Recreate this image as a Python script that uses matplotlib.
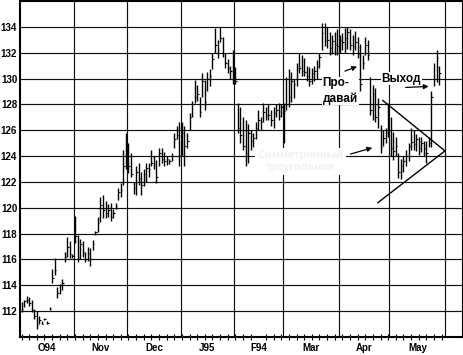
import numpy as np
import matplotlib
matplotlib.use("Agg")
import matplotlib.pyplot as plt

plt.rcParams["font.family"] = ["Liberation Sans", "DejaVu Sans"]

# month labels and trading days per month
months = ["O94", "Nov", "Dec", "J95", "F94", "Mar", "Apr", "May"]
month_days = [21, 21, 21, 21, 19, 22, 20, 22]

# daily highs / lows / closes
highs = [
    # Oct
    112.7, 112.9, 113.2, 113.1, 112.9, 112.2, 112.0, 111.6, 111.2, 111.5, 111.2, 112.3,
    115.3, 116.1, 113.9, 114.1, 114.5, 116.6, 117.7, 117.4, 116.4,
    # Nov
    119.4, 117.9, 117.6, 117.4, 116.6, 117.0, 116.9, 117.5, 118.2, 119.3, 120.8,
    121.0, 120.5, 120.3, 120.4, 119.9, 120.4, 121.5, 121.9, 124.5, 125.8,
    # Dec
    125.0, 124.2, 122.0, 123.2, 123.5, 122.8, 123.0, 123.5, 123.5, 124.5, 124.0,
    123.7, 124.6, 124.6, 124.3, 124.0, 123.8, 124.2, 125.8, 126.3, 126.6,
    # Jan
    126.6, 126.3, 125.8, 127.3, 128.3, 129.9, 129.5, 128.6, 130.4, 129.9, 130.5,
    130.7, 132.0, 133.9, 133.0, 134.0, 133.2, 132.0, 131.5, 131.0, 132.2,
    # Feb
    130.9, 128.1, 127.8, 127.0, 126.8, 126.5, 126.0, 125.8, 126.6, 127.6,
    127.0, 128.1, 127.8, 128.0, 127.6, 127.8, 128.0, 128.1, 128.0,
    # Mar
    128.1, 130.1, 130.7, 130.5, 130.0, 131.2, 132.0, 131.8, 131.6, 131.0, 130.9,
    130.8, 131.0, 131.4, 132.0, 134.3, 134.3, 134.0, 133.6, 133.4, 133.6, 133.8, 133.4,
    # Apr
    133.5, 133.9, 134.0, 133.8, 133.4, 133.7, 133.2, 132.7, 131.8, 133.2,
    133.0, 130.1, 129.5, 129.3, 128.5, 126.4, 126.0, 126.2, 128.1, 127.0,
    # May
    125.9, 125.5, 124.2, 123.8, 124.0, 124.5, 125.0, 126.2, 126.0, 125.7,
    125.5, 125.5, 125.2, 125.2, 125.5, 129.0, 131.2, 132.2, 131.0,
]
lows = [
    111.9, 112.3, 112.6, 112.4, 111.9, 111.4, 110.6, 111.0, 111.0, 111.3, 111.0, 112.1,
    114.2, 114.8, 113.0, 113.3, 113.6, 115.8, 116.2, 116.1, 116.1,
    117.3, 115.8, 116.0, 116.2, 115.8, 115.9, 115.5, 116.7, 117.9, 118.1, 118.9,
    119.2, 119.2, 119.3, 119.0, 119.2, 119.9, 120.6, 120.8, 121.8, 123.0,
    122.7, 122.4, 121.1, 121.0, 121.8, 121.0, 121.7, 122.0, 122.4, 123.2, 123.0,
    121.9, 123.2, 123.5, 123.2, 123.3, 123.4, 123.6, 124.6, 125.3, 123.2,
    124.0, 123.2, 124.6, 126.0, 127.0, 128.1, 128.3, 127.0, 128.6, 127.6, 129.0,
    129.4, 130.7, 132.0, 131.6, 132.8, 131.7, 130.8, 130.4, 130.0, 129.6,
    129.6, 125.8, 125.0, 124.5, 123.2, 123.5, 124.5, 124.7, 125.3, 126.0,
    126.0, 126.6, 126.8, 126.8, 126.3, 126.2, 127.0, 126.8, 127.0,
    125.0, 127.6, 127.8, 128.2, 128.5, 129.4, 130.4, 130.2, 130.2, 129.8, 129.4,
    129.6, 129.8, 130.0, 130.8, 132.2, 132.5, 132.4, 131.8, 131.9, 131.8, 131.8, 132.0,
    132.2, 132.0, 132.3, 132.2, 131.8, 132.2, 131.6, 129.0, 130.7, 131.8,
    131.4, 127.2, 126.8, 126.6, 126.2, 124.2, 124.8, 125.0, 125.5, 124.0,
    123.7, 124.0, 122.3, 122.2, 122.8, 123.2, 123.6, 124.5, 124.5, 124.4,
    124.1, 124.3, 124.0, 123.5, 124.7, 124.7, 129.4, 129.7, 129.5,
]
closes = [
    112.2, 112.8, 112.9, 112.6, 112.1, 111.6, 110.9, 111.3, 111.0, 111.4, 111.1, 112.2,
    114.6, 115.2, 113.4, 114.0, 114.2, 116.2, 117.0, 116.4, 116.3,
    117.8, 116.2, 117.2, 116.6, 116.0, 116.5, 116.0, 117.2, 118.1, 118.8, 120.2,
    119.8, 119.6, 119.8, 119.3, 119.6, 120.1, 121.2, 121.4, 123.2, 124.0,
    123.2, 122.6, 121.5, 122.8, 122.3, 121.8, 122.6, 123.1, 123.0, 123.5, 123.4,
    122.4, 124.2, 123.8, 123.6, 123.8, 123.6, 124.0, 125.3, 125.6, 124.0,
    125.8, 124.8, 125.2, 127.0, 128.0, 128.6, 128.8, 127.4, 129.8, 128.2, 130.0,
    130.2, 131.5, 132.6, 132.2, 133.1, 132.0, 131.2, 130.8, 130.6, 130.0,
    129.8, 126.2, 125.6, 124.8, 124.2, 125.8, 125.2, 125.4, 126.2, 126.8,
    126.6, 127.4, 127.2, 127.2, 126.8, 127.3, 127.6, 127.1, 127.8,
    127.5, 128.0, 128.6, 129.8, 129.6, 130.8, 130.8, 130.6, 130.5, 130.2, 129.8,
    130.4, 130.6, 131.0, 131.7, 133.5, 132.9, 133.0, 132.4, 132.9, 132.6, 132.5, 133.0,
    132.8, 133.1, 133.6, 132.6, 132.5, 132.8, 131.9, 129.6, 131.2, 132.6,
    131.8, 127.6, 128.8, 127.0, 127.8, 124.7, 125.4, 125.8, 126.0, 124.6,
    124.4, 124.8, 122.8, 123.2, 123.6, 124.0, 124.8, 125.1, 124.9, 125.3,
    124.6, 125.0, 124.6, 124.2, 125.0, 128.6, 130.0, 131.6, 130.4,
]

days = np.arange(len(highs))
edges = np.cumsum(month_days) - 0.5
centers = edges - np.array(month_days) / 2

fig = plt.figure(figsize=(4.63, 3.55), dpi=100)
ax = fig.add_axes([20 / 463, 18 / 355, 442 / 463, 336 / 355])
ax.set_xlim(-0.6, 173)
ax.set_ylim(110, 136)

# grid
for y in range(112, 136, 2):
    ax.axhline(y, color="#111111", lw=0.85, zorder=1)
for e in edges:
    ax.axvline(e, color="#111111", lw=0.85, zorder=1)

# bars
ax.vlines(days, lows, highs, color="black", lw=1.0, zorder=3)
ax.hlines(closes, days, days + 0.6, color="black", lw=0.8, zorder=3)

# triangle
ax.plot([141.9, 166.3], [128.3, 124.4], color="black", lw=1.0, zorder=4)
ax.plot([140.0, 166.3], [120.4, 124.4], color="black", lw=1.0, zorder=4)

# labels + arrows
bold = dict(fontsize=8.5, fontweight="bold", color="black")
ax.text(118.3, 130.1, "Про-\nдавай", ha="left", va="top", linespacing=1.3,
        bbox=dict(fc="white", ec="none", pad=0.5), zorder=5, **bold)
ax.annotate("", xy=(132.8, 131.0), xytext=(126.0, 130.5),
            arrowprops=dict(arrowstyle="-|>", color="black", lw=0.9, mutation_scale=7), zorder=6)
ax.text(141.4, 130.0, "Выход", ha="left", va="center",
        bbox=dict(fc="white", ec="none", pad=0.5), zorder=5, **bold)
ax.annotate("", xy=(161.0, 129.4), xytext=(149.8, 129.3),
            arrowprops=dict(arrowstyle="-|>", color="black", lw=0.9, mutation_scale=7), zorder=6)
ax.text(109.5, 123.6, "Симметричный\nтреугольник", ha="center", va="center",
        fontsize=8, fontweight="bold", color="#f0f0f0", linespacing=1.2,
        bbox=dict(fc="white", ec="none", pad=2), zorder=5)
ax.annotate("", xy=(138.8, 124.7), xytext=(128.2, 124.1),
            arrowprops=dict(arrowstyle="-|>", color="black", lw=0.9, mutation_scale=7), zorder=6)

# axes
ax.set_yticks(range(112, 136, 2))
ax.set_yticklabels([str(v) for v in range(112, 136, 2)], fontsize=7, fontweight="bold")
ax.tick_params(axis="y", length=0, pad=2)
ax.set_xticks(centers)
ax.set_xticklabels(months, fontsize=7, fontweight="bold")
ax.tick_params(axis="x", which="major", length=0, pad=4)
ax.set_xticks(np.arange(0, 168, 3), minor=True)
ax.tick_params(axis="x", which="minor", direction="inout", length=4, width=0.8)

for side in ["left", "top", "bottom"]:
    ax.spines[side].set_linewidth(1.5)
ax.spines["right"].set_linewidth(0.8)

fig.savefig("out.png", dpi=100)
